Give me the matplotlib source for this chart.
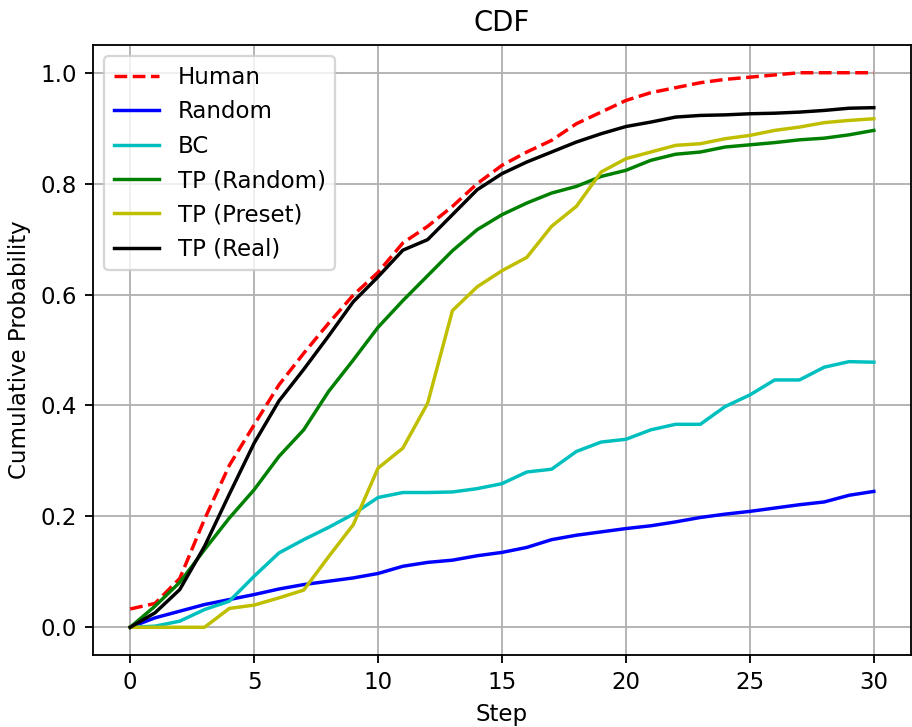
# CDF 曲线对比
import matplotlib
matplotlib.use('Agg')
import matplotlib.pyplot as plt

steps = list(range(31))

human = [0.033, 0.043, 0.088, 0.195, 0.292, 0.365, 0.437, 0.494, 0.548, 0.599, 0.640,
         0.693, 0.723, 0.759, 0.800, 0.833, 0.857, 0.878, 0.908, 0.929, 0.950,
         0.964, 0.973, 0.982, 0.988, 0.992, 0.996, 1.0, 1.0, 1.0, 1.0]
random_ = [0.0, 0.017, 0.029, 0.041, 0.050, 0.059, 0.069, 0.077, 0.083, 0.089, 0.097,
           0.110, 0.117, 0.121, 0.129, 0.135, 0.144, 0.158, 0.166, 0.172, 0.178,
           0.183, 0.190, 0.198, 0.204, 0.209, 0.215, 0.221, 0.226, 0.238, 0.245]
bc = [0.0, 0.002, 0.011, 0.032, 0.047, 0.092, 0.134, 0.158, 0.180, 0.204, 0.234,
      0.243, 0.243, 0.244, 0.250, 0.259, 0.280, 0.285, 0.317, 0.334, 0.339,
      0.356, 0.366, 0.366, 0.398, 0.419, 0.446, 0.446, 0.469, 0.479, 0.478]
tp_random = [0.0, 0.038, 0.081, 0.140, 0.197, 0.248, 0.308, 0.356, 0.425, 0.482, 0.541,
             0.589, 0.634, 0.679, 0.717, 0.744, 0.765, 0.783, 0.795, 0.813, 0.824,
             0.842, 0.853, 0.857, 0.866, 0.870, 0.874, 0.879, 0.882, 0.888, 0.896]
tp_preset = [0.0, 0.0, 0.0, 0.0, 0.034, 0.040, 0.053, 0.067, 0.127, 0.185, 0.287,
             0.323, 0.404, 0.571, 0.614, 0.643, 0.667, 0.723, 0.759, 0.821, 0.845,
             0.857, 0.869, 0.872, 0.881, 0.887, 0.896, 0.902, 0.910, 0.914, 0.917]
tp_real = [0.0, 0.026, 0.068, 0.146, 0.240, 0.332, 0.408, 0.465, 0.525, 0.587, 0.632,
           0.680, 0.699, 0.744, 0.789, 0.818, 0.839, 0.857, 0.875, 0.890, 0.903,
           0.911, 0.920, 0.923, 0.924, 0.926, 0.927, 0.929, 0.932, 0.936, 0.937]

fig = plt.figure(figsize=(912 / 165, 727 / 165), dpi=165)
ax = fig.add_axes([93 / 912, 72 / 727, 818 / 912, 610 / 727])

ax.plot(steps, human, 'r--', label='Human')
ax.plot(steps, random_, 'b', label='Random')
ax.plot(steps, bc, 'c', label='BC')
ax.plot(steps, tp_random, 'g', label='TP (Random)')
ax.plot(steps, tp_preset, 'y', label='TP (Preset)')
ax.plot(steps, tp_real, 'k', label='TP (Real)')

ax.set_xlabel('Step')
ax.set_ylabel('Cumulative Probability')
ax.set_title('CDF')
ax.legend(loc='upper left')
ax.grid(True)

fig.savefig('out.png', dpi=165)
